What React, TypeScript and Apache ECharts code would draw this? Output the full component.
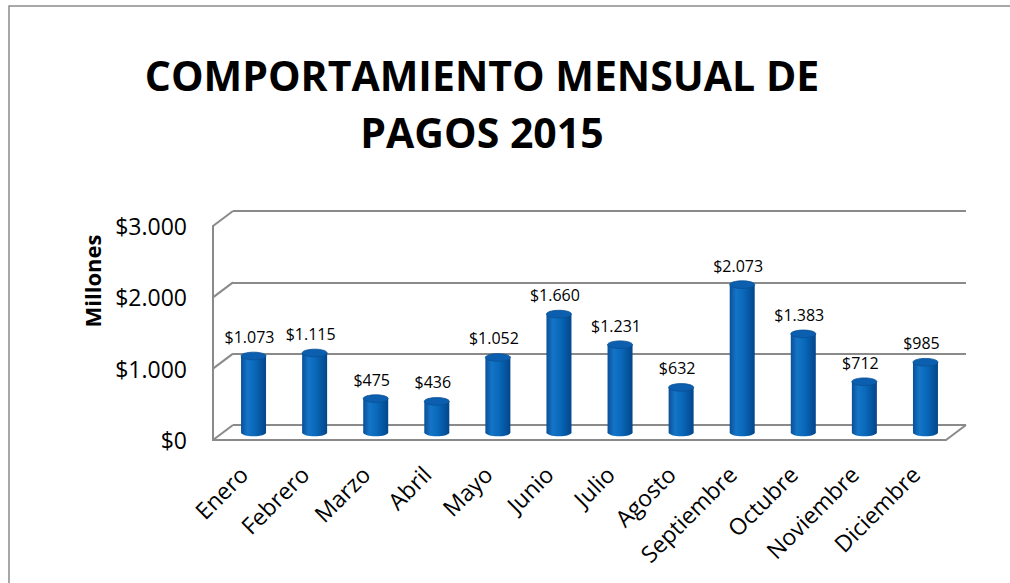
import React, { useEffect, useRef } from 'react';
import * as echarts from 'echarts';

const months = ['Enero', 'Febrero', 'Marzo', 'Abril', 'Mayo', 'Junio', 'Julio', 'Agosto', 'Septiembre', 'Octubre', 'Noviembre', 'Diciembre'];
const pagos = [1073, 1115, 475, 436, 1052, 1660, 1231, 632, 2073, 1383, 712, 985];
const yTicks = [0, 1000, 2000, 3000];
const titleText = 'COMPORTAMIENTO MENSUAL DE\nPAGOS 2015';
const yName = 'Millones';

const DX = -20;
const DY = 15;
const GRID_COLOR = '#8a8a8a';
const FONT = 'Open Sans';

const fmt = (v: number) => {
  if (v >= 1000) {
    const th = Math.floor(v / 1000);
    const r = String(v % 1000).padStart(3, '0');
    return '$' + th + '.' + r;
  }
  return '$' + v;
};

export default function App() {
  const ref = useRef<HTMLDivElement>(null);
  useEffect(() => {
    if (!ref.current) return;
    const chart = echarts.init(ref.current, undefined, { renderer: 'svg' });
    const bodyFill = {
      type: 'linear', x: 0, y: 0, x2: 1, y2: 0,
      colorStops: [
        { offset: 0, color: '#0b4f98' },
        { offset: 0.25, color: '#1474c6' },
        { offset: 0.55, color: '#0968ba' },
        { offset: 1, color: '#03468a' },
      ],
    };
    const option: any = {
      animation: false,
      backgroundColor: '#ffffff',
      title: {
        text: titleText,
        left: 482,
        top: 46,
        textAlign: 'center',
        padding: 0,
        textStyle: { fontFamily: FONT, fontWeight: 'bold', fontSize: 41, lineHeight: 57, color: '#000' },
      },
      graphic: [
        {
          type: 'rect', z: -10, silent: true,
          shape: { x: 9, y: 6, width: 1100, height: 700 },
          style: { fill: 'none', stroke: '#8c8c8c', lineWidth: 1.5 },
        },
        {
          type: 'text', x: 92, y: 281, rotation: Math.PI / 2,
          style: { text: yName, fontFamily: FONT, fontWeight: 'bold', fontSize: 22, fill: '#000', align: 'center', verticalAlign: 'middle' },
        },
      ],
      grid: [
        { left: 233, top: 211, width: 733, height: 214 },
        { left: 213, top: 226, width: 733, height: 214 },
      ],
      xAxis: [
        { type: 'category', gridIndex: 0, data: months, axisLine: { show: false }, axisTick: { show: false }, axisLabel: { show: false } },
        {
          type: 'category', gridIndex: 1, data: months,
          axisLine: { show: true, lineStyle: { color: GRID_COLOR, width: 2 } },
          axisTick: { show: false },
          axisLabel: { rotate: 45, margin: 30, fontFamily: FONT, fontSize: 23, color: '#000', interval: 0 },
        },
      ],
      yAxis: [
        {
          type: 'value', gridIndex: 0, min: 0, max: 3000, interval: 1000,
          axisLine: { show: false }, axisTick: { show: false }, axisLabel: { show: false },
          splitLine: { show: true, lineStyle: { color: GRID_COLOR, width: 2 } },
        },
        {
          type: 'value', gridIndex: 1, min: 0, max: 3000, interval: 1000,
          axisLine: { show: true, lineStyle: { color: GRID_COLOR, width: 2 } },
          axisTick: { show: false },
          splitLine: { show: false },
          axisLabel: { formatter: (v: number) => fmt(v), margin: 26, fontFamily: FONT, fontSize: 23, color: '#000' },
        },
      ],
      series: [
        {
          type: 'custom', xAxisIndex: 0, yAxisIndex: 0, silent: true, z: 1,
          data: [[0, 0]],
          renderItem: (params: any, api: any) => {
            const bw = api.size([1, 0])[0];
            const children: any[] = [];
            yTicks.forEach((t) => {
              const p = api.coord([0, t]);
              const xL = p[0] - bw / 2;
              children.push({
                type: 'line',
                shape: { x1: xL, y1: p[1], x2: xL + DX, y2: p[1] + DY },
                style: { stroke: GRID_COLOR, lineWidth: 2 },
              });
            });
            const q = api.coord([months.length - 1, 0]);
            const xR = q[0] + bw / 2;
            children.push({
              type: 'line',
              shape: { x1: xR, y1: q[1], x2: xR + DX, y2: q[1] + DY },
              style: { stroke: GRID_COLOR, lineWidth: 2 },
            });
            return { type: 'group', children };
          },
        },
        {
          type: 'custom', xAxisIndex: 0, yAxisIndex: 0, z: 5,
          data: pagos.map((v, i) => [i, v]),
          encode: { x: 0, y: 1 },
          renderItem: (params: any, api: any) => {
            const i = api.value(0);
            const v = api.value(1);
            const p = api.coord([i, v]);
            const b = api.coord([i, 0]);
            const cx = p[0] + DX / 2;
            const top = p[1] + DY / 2;
            const bottom = b[1] + DY / 2;
            const rx = 12.5;
            const ry = 3.8;
            return {
              type: 'group',
              children: [
                { type: 'ellipse', shape: { cx, cy: bottom, rx, ry }, style: { fill: bodyFill } },
                { type: 'rect', shape: { x: cx - rx, y: top, width: rx * 2, height: bottom - top }, style: { fill: bodyFill } },
                { type: 'ellipse', shape: { cx, cy: top, rx, ry }, style: { fill: '#0c5fae', stroke: '#0a4f96', lineWidth: 0.8 } },
                {
                  type: 'text',
                  style: {
                    text: fmt(v), x: cx - 4, y: top - 19,
                    align: 'center', verticalAlign: 'middle',
                    fontFamily: FONT, fontSize: 16, fill: '#000',
                  },
                },
              ],
            };
          },
        },
      ],
    };
    chart.setOption(option);
    return () => chart.dispose();
  }, []);
  return <div ref={ref} style={{ position: 'fixed', left: 0, top: 0, width: 1010, height: 583 }} />;
}
